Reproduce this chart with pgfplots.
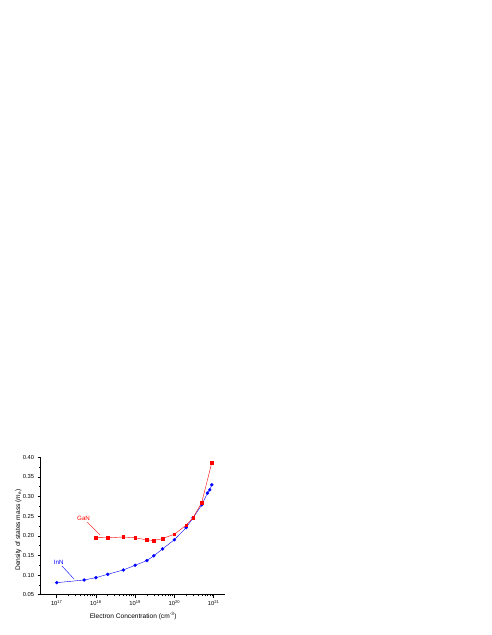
\documentclass[border=0pt]{standalone}
\usepackage{fontspec}
\setmainfont{Liberation Sans}
\usepackage{pgfplots}
\pgfplotsset{compat=1.18}

\begin{document}
\begin{tikzpicture}[x=1pt,y=1pt]
  % page frame: the chart sits in the lower left of a tall white page
  \path (0,0) rectangle (491,635);
  \begin{axis}[
    at={(40.7pt,40.3pt)}, anchor=south west,
    scale only axis,
    width=184.3pt, height=137.4pt,
    xmode=log,
    xmin=3.9e16, xmax=1.96e21,
    ymin=0.05, ymax=0.40,
    axis x line=bottom, axis y line=left,
    axis line style={-, line width=0.6pt},
    tick align=outside,
    major tick length=3pt, minor tick length=1.6pt,
    every tick/.style={black, line width=0.5pt},
    xtick={1e17,1e18,1e19,1e20,1e21},
    xticklabels={10\textsuperscript{17},10\textsuperscript{18},10\textsuperscript{19},10\textsuperscript{20},10\textsuperscript{21}},
    ytick={0.05,0.10,...,0.41},
    minor y tick num=1,
    yticklabel style={/pgf/number format/.cd, fixed, fixed zerofill, precision=2, assume math mode=true},
    tick label style={font=\fontsize{5.8}{7}\selectfont},
    xticklabel style={yshift=1pt},
    label style={font=\fontsize{6.6}{8}\selectfont},
    xlabel={Electron Concentration (cm\textsuperscript{-3})},
    ylabel={Density of states mass (\textit{m}\textsubscript{e})},
    xlabel style={at={(axis description cs:0.502,-0.153)}, anchor=center},
    ylabel style={at={(axis description cs:-0.1215,0.47)}, anchor=center, rotate=0},
    clip=false,
  ]
    % InN
    \addplot[blue, line width=0.4pt, mark=*, mark size=1.5pt] coordinates {
      (1e17,0.0806) (5e17,0.0875) (1e18,0.0934) (2e18,0.102) (5e18,0.113)
      (1e19,0.125) (2e19,0.137) (3e19,0.149) (5e19,0.1666) (1e20,0.190)
      (2e20,0.221) (3e20,0.2457) (5e20,0.279) (7e20,0.309) (8e20,0.317)
      (9e20,0.330)
    };
    % GaN
    \addplot[red, line width=0.4pt, mark=square*, mark size=1.3pt] coordinates {
      (1e18,0.1955) (2e18,0.195) (5e18,0.197) (1e19,0.195) (2e19,0.1895)
      (3e19,0.188) (5e19,0.193) (1e20,0.204) (2e20,0.227) (3e20,0.246)
      (5e20,0.285) (9e20,0.386)
    };
    \node[red, font=\fontsize{6.2}{7}\selectfont] at (axis cs:4.83e17,0.245) {GaN};
    \draw[red, line width=0.4pt] (axis cs:6.04e17,0.2347) -- (axis cs:1.27e18,0.2023);
    \node[blue, font=\fontsize{6.2}{7}\selectfont] at (axis cs:1.13e17,0.1334) {InN};
    \draw[blue, line width=0.4pt] (axis cs:1.36e17,0.1232) -- (axis cs:2.76e17,0.090);
  \end{axis}
\end{tikzpicture}
\end{document}
